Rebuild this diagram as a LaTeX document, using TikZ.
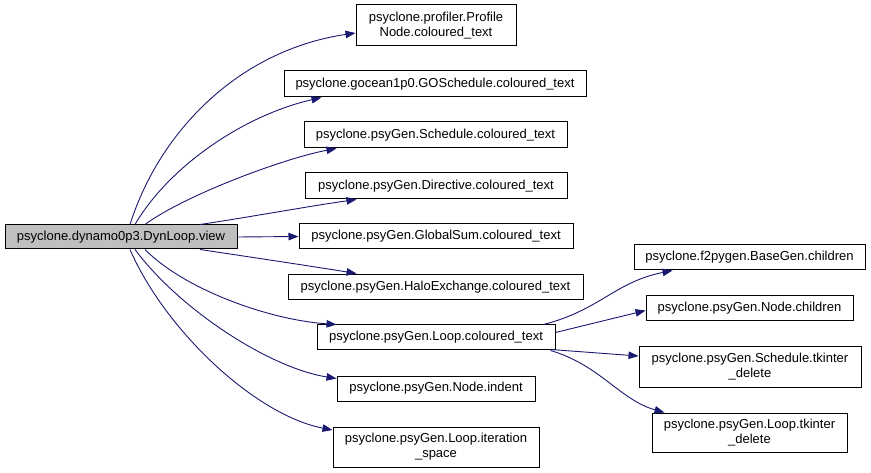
\documentclass[tikz,border=0pt]{standalone}
\usepackage{fontspec}
\setmainfont{Liberation Sans}
\usetikzlibrary{arrows.meta,calc}
\definecolor{edgeblue}{HTML}{191970}
\definecolor{rootgrey}{HTML}{BFBFBF}
\begin{document}
\begin{tikzpicture}[x=1pt,y=-1pt,
  box/.style={draw=black,line width=1pt,fill=white,inner sep=0pt,align=center,
    font=\fontsize{13}{15}\selectfont},
  edge/.style={draw=edgeblue,line width=0.9pt,-{Triangle[length=10pt,width=7.5pt]},edgeblue}]
\useasboundingbox (0,0) rectangle (871,473);
\node[box,fill=rootgrey,minimum width=232pt,minimum height=24pt] (root) at (121,237) {psyclone.dynamo0p3.DynLoop.view};
\node[box,minimum width=160pt,minimum height=41pt] (profile) at (436,25.5) {psyclone.profiler.Profile\\Node.coloured\_text};
\node[box,minimum width=302pt,minimum height=26pt] (gosched) at (435,84) {psyclone.gocean1p0.GOSchedule.coloured\_text};
\node[box,minimum width=263pt,minimum height=26pt] (sched) at (435.5,135) {psyclone.psyGen.Schedule.coloured\_text};
\node[box,minimum width=262pt,minimum height=26pt] (directive) at (436,186) {psyclone.psyGen.Directive.coloured\_text};
\node[box,minimum width=274pt,minimum height=25pt] (globalsum) at (436,236.5) {psyclone.psyGen.GlobalSum.coloured\_text};
\node[box,minimum width=295pt,minimum height=25pt] (halo) at (435.5,287.5) {psyclone.psyGen.HaloExchange.coloured\_text};
\node[box,minimum width=238pt,minimum height=25pt] (loopct) at (436,337.5) {psyclone.psyGen.Loop.coloured\_text};
\node[box,minimum width=198pt,minimum height=25pt] (indent) at (436,388.5) {psyclone.psyGen.Node.indent};
\node[box,minimum width=206pt,minimum height=40pt] (iterspace) at (436,447) {psyclone.psyGen.Loop.iteration\\\_space};
\node[box,minimum width=231pt,minimum height=25pt] (basegen) at (749.5,257.5) {psyclone.f2pygen.BaseGen.children};
\node[box,minimum width=207pt,minimum height=25pt] (nodechildren) at (749.5,308.5) {psyclone.psyGen.Node.children};
\node[box,minimum width=222pt,minimum height=40pt] (schedtk) at (750,367) {psyclone.psyGen.Schedule.tkinter\\\_delete};
\node[box,minimum width=195pt,minimum height=39pt] (looptk) at (749.5,432.5) {psyclone.psyGen.Loop.tkinter\\\_delete};

\draw[edge] ($(root.north)+(9,0)$) .. controls (160,130) and (240,50) .. ($(profile.west)+(0,7.5)$);
\draw[edge] ($(root.north)+(14,0)$) .. controls (170,165) and (245,115) .. ($(gosched.south west)+(38,0)$);
\draw[edge] ($(root.north)+(24,0)$) .. controls (185,195) and (285,158) .. ($(sched.south west)+(33,0)$);
\draw[edge] ($(root.north)+(79,0)$) .. controls (250,217) and (310,206) .. ($(directive.south west)+(52,0)$);
\draw[edge] (root.east) -- (globalsum.west);
\draw[edge] ($(root.south)+(79,0)$) .. controls (250,257) and (310,266) .. ($(halo.north west)+(69,-1)$);
\draw[edge] ($(root.south)+(24,0)$) .. controls (185,290) and (270,320) .. ($(loopct.north west)+(20,0)$);
\draw[edge] ($(root.south)+(14,0)$) .. controls (180,310) and (270,368) .. ($(indent.west)+(0,-10)$);
\draw[edge] ($(root.south)+(9,0)$) .. controls (165,330) and (255,415) .. ($(iterspace.west)+(0,-17)$);

\draw[edge] ($(loopct.north east)+(-12,0)$) .. controls (600,310) and (615,282) .. ($(basegen.south west)+(39,0)$);
\draw[edge] ($(loopct.east)+(0,-5)$) -- ($(nodechildren.west)+(0,2)$);
\draw[edge] ($(loopct.south east)+(-5,-1)$) -- ($(schedtk.west)+(0,-11)$);
\draw[edge] ($(loopct.south east)+(-5,0)$) .. controls (600,365) and (620,400) .. ($(looptk.north west)+(13,0)$);
\end{tikzpicture}
\end{document}
